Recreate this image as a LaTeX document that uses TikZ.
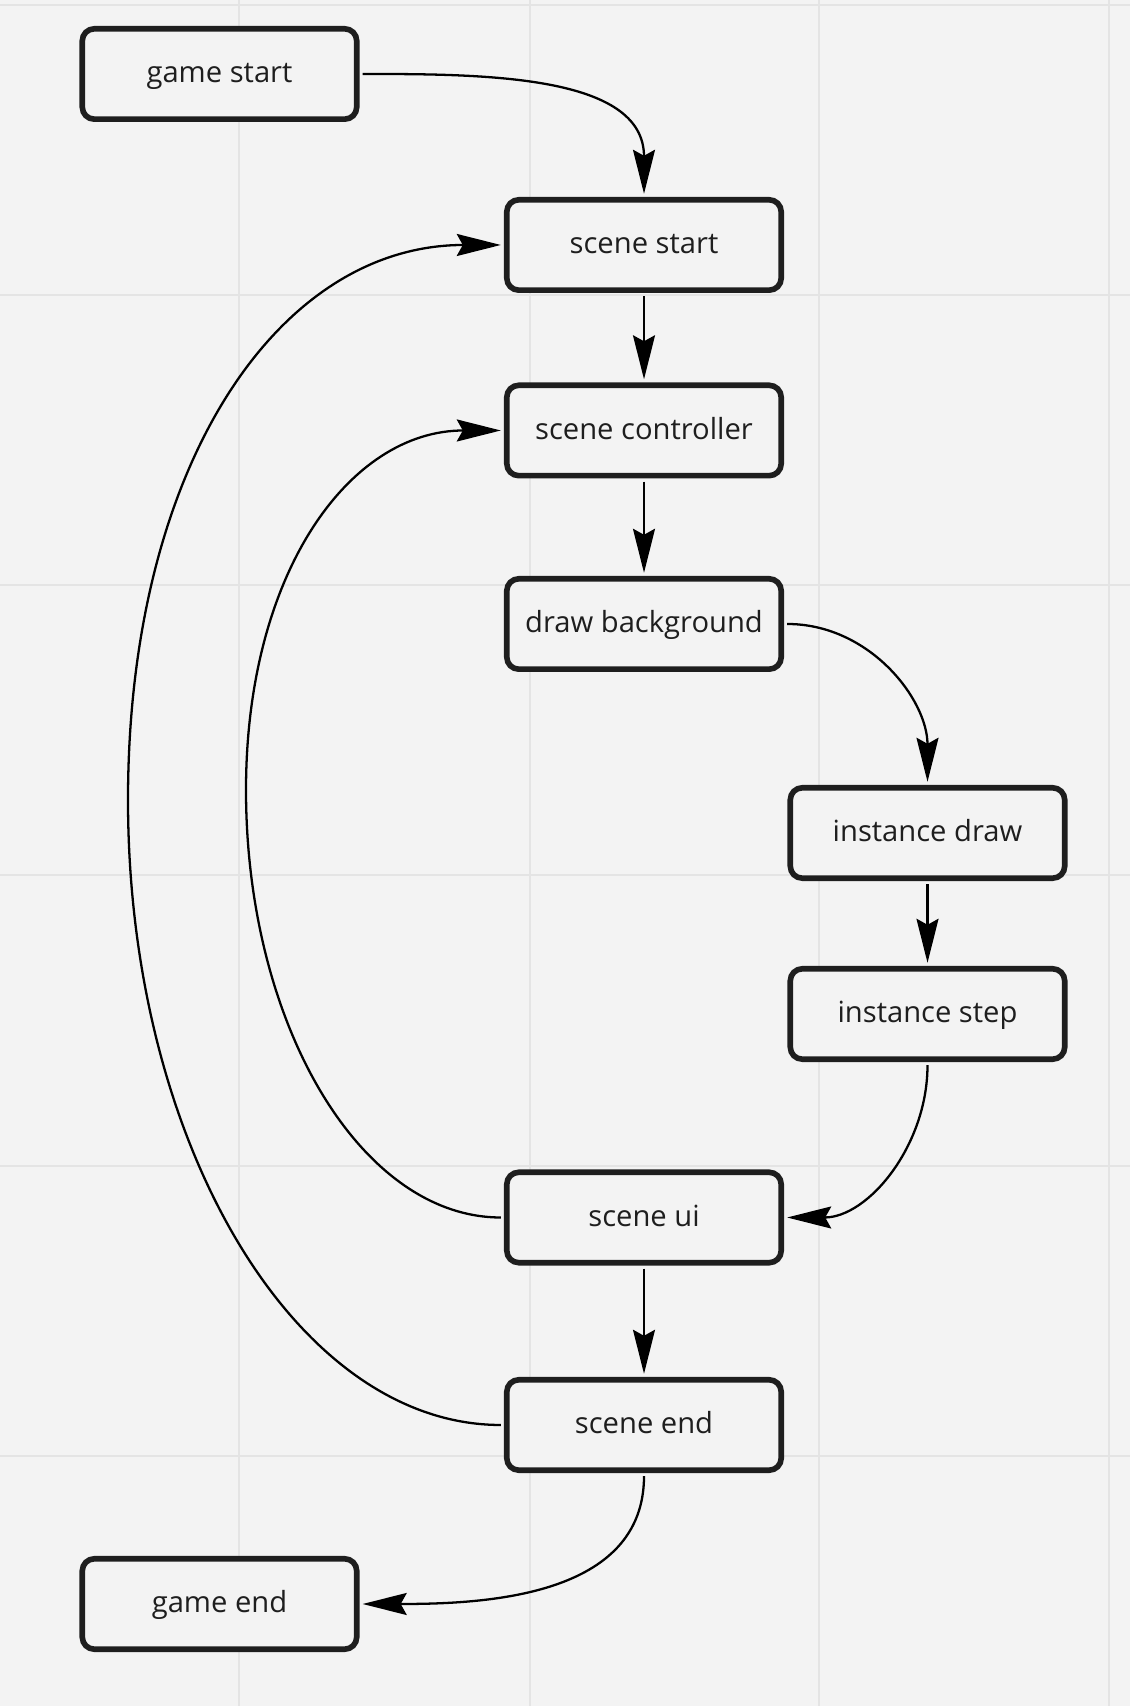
\documentclass[tikz,border=0pt]{standalone}
\usepackage{fontspec}
\setmainfont{Open Sans}
\usetikzlibrary{arrows.meta}
\definecolor{boardbg}{RGB}{243,243,243}
\definecolor{gridln}{RGB}{228,228,228}
\definecolor{ink}{RGB}{30,30,30}
\begin{document}
\begin{tikzpicture}[
    box/.style={draw=ink, line width=1.6pt, rounded corners=0.12cm, fill=boardbg,
        minimum width=2.744cm, minimum height=0.904cm, inner sep=0pt, outer sep=0.06cm,
        text height=5pt, text depth=0pt,
        text=ink, font=\fontsize{8.3pt}{10pt}\selectfont},
    link/.style={-{Stealth[length=0.44cm,width=0.22cm,inset=0.06cm]}, line width=0.65pt, black}
    ]
            \fill [boardbg] (0,0) rectangle (11.30,17.06);
            \useasboundingbox (0,0) rectangle (11.30,17.06);
            % board grid
            \draw [gridln, line width=0.02cm] (2.39,0)--(2.39,17.06);
            \draw [gridln, line width=0.02cm] (5.30,0)--(5.30,17.06);
            \draw [gridln, line width=0.02cm] (8.19,0)--(8.19,17.06);
            \draw [gridln, line width=0.02cm] (11.09,0)--(11.09,17.06);
            \draw [gridln, line width=0.02cm] (0,17.01)--(11.30,17.01);
            \draw [gridln, line width=0.02cm] (0,14.11)--(11.30,14.11);
            \draw [gridln, line width=0.02cm] (0,11.21)--(11.30,11.21);
            \draw [gridln, line width=0.02cm] (0,8.31)--(11.30,8.31);
            \draw [gridln, line width=0.02cm] (0,5.40)--(11.30,5.40);
            \draw [gridln, line width=0.02cm] (0,2.50)--(11.30,2.50);
            % boxes
            \node [box] (gamestart) at(2.195,16.32) {game start};
            \node [box] (scenestart) at(6.44,14.61) {scene start};
            \node [box] (scenecontroller) at(6.44,12.755) {scene controller};
            \node [box] (drawbackground) at(6.44,10.82) {draw background};
            \node [box] (instancedraw) at(9.275,8.73) {instance draw};
            \node [box] (instancestep) at(9.275,6.92) {instance step};
            \node [box] (sceneui) at(6.44,4.885) {scene ui};
            \node [box] (sceneend) at(6.44,2.81) {scene end};
            \node [box] (gameend) at(2.195,1.02) {game end};
            \coordinate (innerleft) at(2.46,9.16);
            \coordinate (outerleft) at(1.28,9.06);
            % links
            \draw [link] (gamestart.east) to[out=0,in=90] (scenestart.north);
            \draw [link] (scenestart)--(scenecontroller);
            \draw [link] (scenecontroller)--(drawbackground);
            \draw [link] (drawbackground.east) to[out=0,in=90] (instancedraw.north);
            \draw [link] (instancedraw)--(instancestep);
            \draw [link] (instancestep.south) to[out=-90,in=0] (sceneui.east);
            \draw [link] (sceneui)--(sceneend);
            \draw [link] (sceneend.south) to[out=-90,in=0] (gameend.east);
            \draw [link] (sceneui.west) .. controls +(-1.4,0) and +(0,-2.35) .. (innerleft)
                .. controls +(0,2.16) and +(-1.52,0) .. (scenecontroller.west);
            \draw [link] (sceneend.west) .. controls +(-2.05,0) and +(0,-3.44) .. (outerleft)
                .. controls +(0,3.34) and +(-2.23,0) .. (scenestart.west);
\end{tikzpicture}
\end{document}
